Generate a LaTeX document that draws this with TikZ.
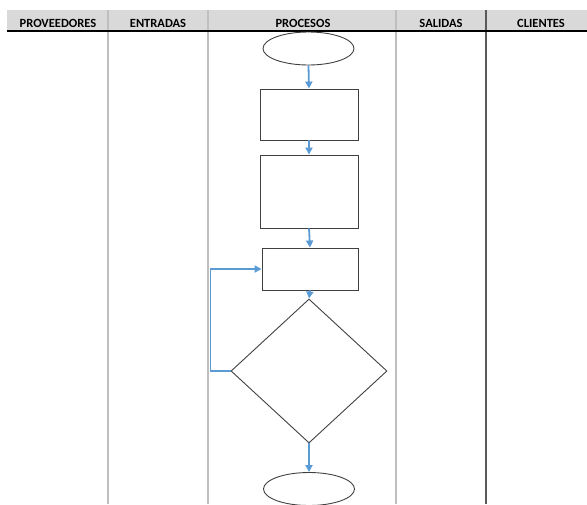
\documentclass[tikz,border=0pt]{standalone}
\usepackage{fontspec}
\setmainfont{Carlito}
\usetikzlibrary{shapes.geometric,arrows.meta}
\definecolor{hdrgray}{HTML}{D9D9D9}
\definecolor{lanegray}{HTML}{BFBFBF}
\definecolor{lanedark}{HTML}{595959}
\definecolor{flowblue}{HTML}{5B9BD5}
\definecolor{shapeline}{HTML}{404040}
\tikzset{
  hdrtext/.style={font=\fontsize{12.5}{14}\selectfont\bfseries, anchor=base, inner sep=0pt},
  lane/.style={draw=lanegray, line width=1.4pt},
  lanedk/.style={draw=lanedark, line width=1.4pt},
  procbox/.style={draw=shapeline, line width=0.9pt, rectangle, inner sep=0pt},
  termin/.style={draw=shapeline, line width=0.9pt, ellipse, inner sep=0pt, minimum width=91pt, minimum height=33pt},
  decis/.style={draw=shapeline, line width=0.9pt, diamond, inner sep=0pt, minimum width=156pt, minimum height=144pt},
  flow/.style={draw=flowblue, line width=1.8pt, -{Triangle[length=7pt,width=7pt]}},
}
\begin{document}
\begin{tikzpicture}[x=1pt,y=-1pt]
\useasboundingbox (0,0) rectangle (587,504);
% header band
\fill[hdrgray] (7,10) rectangle (587,31);
% lane dividers
\draw[lane] (108,10) -- (108,504);
\draw[lane] (208,10) -- (208,504);
\draw[lane] (396,10) -- (396,504);
\draw[lanedk] (486,10) -- (486,504);
\draw[black, line width=1.2pt] (7,31) -- (587,31);
% header texts
\node[hdrtext] (h1) at (58,27) {PROVEEDORES};
\node[hdrtext] (h2) at (158,27) {ENTRADAS};
\node[hdrtext] (h3) at (303,27) {PROCESOS};
\node[hdrtext] (h4) at (441,27) {SALIDAS};
\node[hdrtext] (h5) at (541,27) {CLIENTES};
% flowchart
\node[termin] (start) at (308.5,48.5) {};
\node[procbox, minimum width=98pt, minimum height=51pt] (r1) at (309,114.5) {};
\node[procbox, minimum width=98pt, minimum height=73pt] (r2) at (309,191.5) {};
\node[procbox, minimum width=96pt, minimum height=42pt] (r3) at (310,269) {};
\node[decis] (d) at (309,371) {};
\node[termin] (end) at (309,489) {};
\draw[flow] (start.south) -- (r1.north);
\draw[flow] (r1.south) -- (r2.north);
\draw[flow] (r2.south) -- (r3.north);
\draw[flow] (r3.south) -- (d.north);
\draw[flow] (d.south) -- (end.north);
\draw[flow] (d.west) -- ++(-20,0) |- (r3.west);
\end{tikzpicture}
\end{document}
